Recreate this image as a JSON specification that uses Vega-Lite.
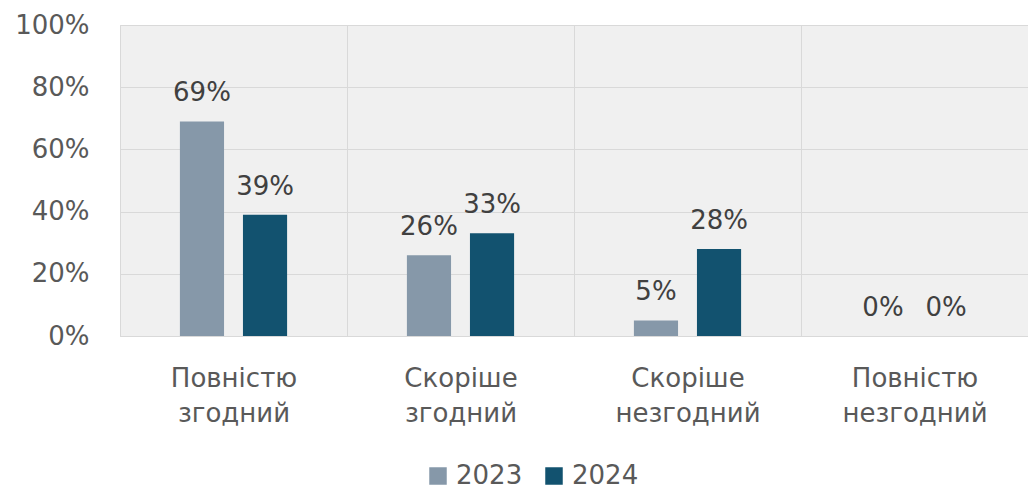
{
  "$schema": "https://vega.github.io/schema/vega-lite/v6.json",
  "width": 908,
  "height": 311,
  "autosize": "none",
  "padding": {"left": 120, "top": 25, "right": 0, "bottom": 153},
  "background": "white",
  "config": {
    "font": "DejaVu Sans",
    "view": {"stroke": "#d9d9d9", "fill": "#f0f0f0"}
  },
  "data": {
    "values": [
      {"cat": "Повністю згодний", "year": "2023", "value": 0.69},
      {"cat": "Повністю згодний", "year": "2024", "value": 0.39},
      {"cat": "Скоріше згодний", "year": "2023", "value": 0.26},
      {"cat": "Скоріше згодний", "year": "2024", "value": 0.33},
      {"cat": "Скоріше незгодний", "year": "2023", "value": 0.05},
      {"cat": "Скоріше незгодний", "year": "2024", "value": 0.28},
      {"cat": "Повністю незгодний", "year": "2023", "value": 0},
      {"cat": "Повністю незгодний", "year": "2024", "value": 0}
    ]
  },
  "encoding": {
    "x": {
      "field": "cat",
      "type": "nominal",
      "sort": ["Повністю згодний", "Скоріше згодний", "Скоріше незгодний", "Повністю незгодний"],
      "scale": {"paddingInner": 0, "paddingOuter": 0},
      "axis": {
        "title": null,
        "labelAngle": 0,
        "labelExpr": "isValid(datum.value) ? split(datum.value, ' ') : ''",
        "labelFontSize": 26,
        "labelColor": "#595959",
        "labelPadding": 29,
        "labelLineHeight": 35,
        "labelBaseline": "top",
        "ticks": false,
        "domain": true,
        "domainColor": "#d9d9d9",
        "grid": true,
        "gridColor": "#d9d9d9",
        "tickBand": "extent"
      }
    },
    "xOffset": {
      "field": "year",
      "type": "nominal",
      "scale": {"paddingInner": 0.3, "paddingOuter": 0.95}
    },
    "y": {
      "field": "value",
      "type": "quantitative",
      "scale": {"domain": [0, 1]},
      "axis": {
        "title": null,
        "format": ".0%",
        "values": [0, 0.2, 0.4, 0.6, 0.8, 1],
        "labelFontSize": 26,
        "labelColor": "#595959",
        "labelPadding": 31,
        "ticks": false,
        "domain": false,
        "gridColor": "#d9d9d9"
      }
    }
  },
  "layer": [
    {
      "mark": {"type": "bar"},
      "encoding": {
        "color": {
          "field": "year",
          "type": "nominal",
          "scale": {"range": ["#8698a9", "#12526f"]},
          "legend": {
            "title": null,
            "orient": "none",
            "direction": "horizontal",
            "legendX": 305,
            "legendY": 438,
            "symbolType": "square",
            "symbolSize": 306,
            "symbolStrokeWidth": 0,
            "labelFontSize": 26,
            "labelColor": "#595959",
            "labelOffset": 5,
            "columnPadding": 18
          }
        }
      }
    },
    {
      "mark": {"type": "text", "baseline": "alphabetic", "dy": -20, "fontSize": 26, "color": "#404040"},
      "encoding": {"text": {"field": "value", "type": "quantitative", "format": ".0%"}}
    }
  ]
}
